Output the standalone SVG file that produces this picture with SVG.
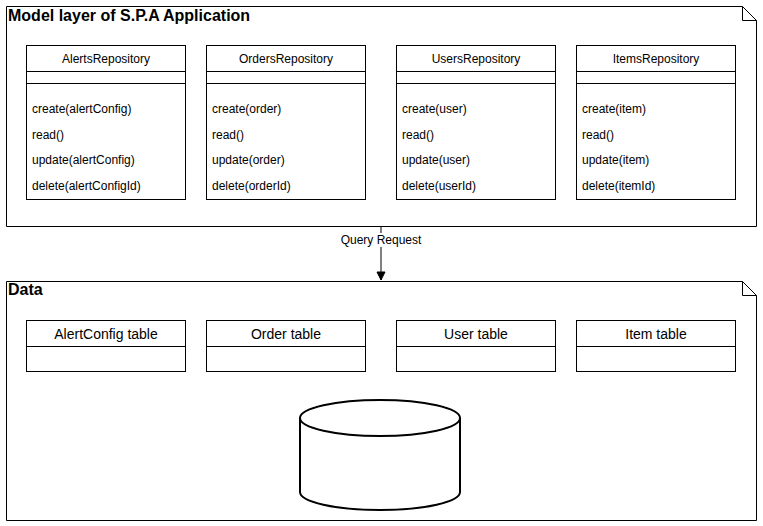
<svg xmlns="http://www.w3.org/2000/svg" width="763" height="526" viewBox="0 0 763 526">
<style>
.frame{fill:#fff;stroke:#000;stroke-width:1}
.box{fill:#fff;stroke:#000;stroke-width:1}
.ln{stroke:#000;stroke-width:1;fill:none}
.ttl{font-family:"Liberation Sans",Arial,sans-serif;font-size:16px;font-weight:bold;fill:#000}
.hd{font-family:"Liberation Sans",Arial,sans-serif;font-size:12px;fill:#000;text-anchor:middle}
.m{font-family:"Liberation Sans",Arial,sans-serif;font-size:12px;fill:#000}
.th{font-family:"Liberation Sans",Arial,sans-serif;font-size:14px;fill:#000;text-anchor:middle}
.lbl{font-family:"Liberation Sans",Arial,sans-serif;font-size:12px;fill:#000;text-anchor:middle}
</style>
<defs>
<marker id="arr" markerWidth="10" markerHeight="10" refX="9" refY="5" orient="auto" markerUnits="userSpaceOnUse">
<path d="M1,1 L9,5 L1,9 Z" fill="#000" stroke="#000"/>
</marker>
</defs>
<rect width="763" height="526" fill="#fff"/>

<g id="model-frame">
<path class="frame" d="M6.5,6.5 H742.5 L756.5,20.5 V226.5 H6.5 Z"/>
<path class="ln" d="M742.5,6.5 V20.5 H756.5"/>
<text class="ttl" x="8" y="21">Model layer of S.P.A Application</text>
</g>

<g id="alerts-repo">
<rect class="box" x="26.5" y="45.5" width="159" height="154"/>
<line class="ln" x1="26.5" y1="71.5" x2="185.5" y2="71.5"/>
<line class="ln" x1="26.5" y1="83.5" x2="185.5" y2="83.5"/>
<text class="hd" x="106" y="62.5">AlertsRepository</text>
<text class="m" x="32" y="112.5">create(alertConfig)</text>
<text class="m" x="32" y="138.5">read()</text>
<text class="m" x="32" y="164">update(alertConfig)</text>
<text class="m" x="32" y="189.5">delete(alertConfigId)</text>
</g>

<g id="orders-repo">
<rect class="box" x="206.5" y="45.5" width="159" height="154"/>
<line class="ln" x1="206.5" y1="71.5" x2="365.5" y2="71.5"/>
<line class="ln" x1="206.5" y1="83.5" x2="365.5" y2="83.5"/>
<text class="hd" x="286" y="62.5">OrdersRepository</text>
<text class="m" x="212" y="112.5">create(order)</text>
<text class="m" x="212" y="138.5">read()</text>
<text class="m" x="212" y="164">update(order)</text>
<text class="m" x="212" y="189.5">delete(orderId)</text>
</g>

<g id="users-repo">
<rect class="box" x="396.5" y="45.5" width="159" height="154"/>
<line class="ln" x1="396.5" y1="71.5" x2="555.5" y2="71.5"/>
<line class="ln" x1="396.5" y1="83.5" x2="555.5" y2="83.5"/>
<text class="hd" x="476" y="62.5">UsersRepository</text>
<text class="m" x="402" y="112.5">create(user)</text>
<text class="m" x="402" y="138.5">read()</text>
<text class="m" x="402" y="164">update(user)</text>
<text class="m" x="402" y="189.5">delete(userId)</text>
</g>

<g id="items-repo">
<rect class="box" x="576.5" y="45.5" width="159" height="154"/>
<line class="ln" x1="576.5" y1="71.5" x2="735.5" y2="71.5"/>
<line class="ln" x1="576.5" y1="83.5" x2="735.5" y2="83.5"/>
<text class="hd" x="656" y="62.5">ItemsRepository</text>
<text class="m" x="582" y="112.5">create(item)</text>
<text class="m" x="582" y="138.5">read()</text>
<text class="m" x="582" y="164">update(item)</text>
<text class="m" x="582" y="189.5">delete(itemId)</text>
</g>

<g id="data-frame">
<path class="frame" d="M6.5,281.5 H742.5 L756.5,295.5 V520.5 H6.5 Z"/>
<path class="ln" d="M742.5,281.5 V295.5 H756.5"/>
<text class="ttl" x="8" y="295">Data</text>
</g>

<g id="alertconfig-table">
<rect class="box" x="26.5" y="320.5" width="159" height="51"/>
<line class="ln" x1="26.5" y1="346.5" x2="185.5" y2="346.5"/>
<text class="th" x="106" y="338.5">AlertConfig table</text>
</g>

<g id="order-table">
<rect class="box" x="206.5" y="320.5" width="159" height="51"/>
<line class="ln" x1="206.5" y1="346.5" x2="365.5" y2="346.5"/>
<text class="th" x="286" y="338.5">Order table</text>
</g>

<g id="user-table">
<rect class="box" x="396.5" y="320.5" width="159" height="51"/>
<line class="ln" x1="396.5" y1="346.5" x2="555.5" y2="346.5"/>
<text class="th" x="476" y="338.5">User table</text>
</g>

<g id="item-table">
<rect class="box" x="576.5" y="320.5" width="159" height="51"/>
<line class="ln" x1="576.5" y1="346.5" x2="735.5" y2="346.5"/>
<text class="th" x="656" y="338.5">Item table</text>
</g>

<g id="database">
<path d="M300,418 A80,18 0 0 1 460,418 V492 A80,18 0 0 1 300,492 Z" fill="#fff" stroke="#000" stroke-width="2"/>
<path d="M300,418 A80,18 0 0 0 460,418" fill="none" stroke="#000" stroke-width="2"/>
</g>

<g id="connectors">
<line class="ln" x1="381" y1="226.5" x2="381" y2="280" marker-end="url(#arr)"/>
<rect x="339" y="233" width="84" height="14" fill="#fff"/>
<text class="lbl" x="381" y="244">Query Request</text>
</g>
</svg>
